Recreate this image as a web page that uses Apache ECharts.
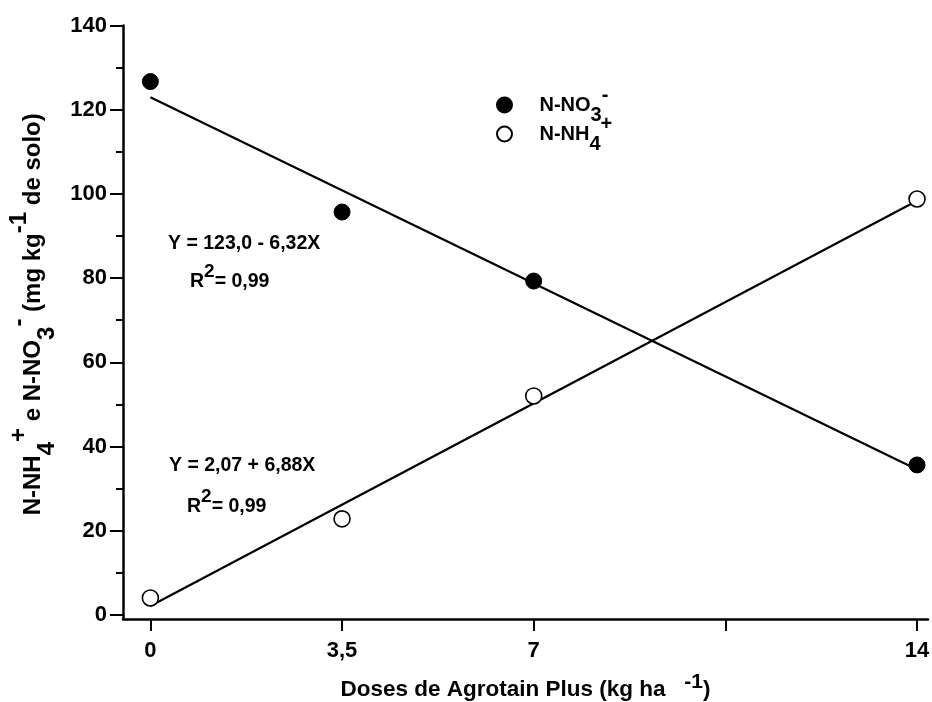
<!DOCTYPE html>
<html>
<head>
<meta charset="utf-8">
<script src="https://cdn.jsdelivr.net/npm/echarts@6/dist/echarts.min.js"></script>
<style>html,body{margin:0;padding:0;background:#fff}#c{width:932px;height:702px}</style>
</head>
<body>
<div id="c"></div>
<script>
// ---- data ----
const doses = [0, 3.5, 7, 14];
const no3Values = [126.7, 95.7, 79.3, 35.6];
const nh4Values = [4.0, 22.8, 52.0, 98.8];
const fitX = [0, 14];
const no3Fit = [123.0, 34.5];
const nh4Fit = [2.07, 98.4];
const xTickValues = [0, 3.5, 7, 10.5, 14];
const xLabelValues = [0, 3.5, 7, 14];
const yLabelValues = [0, 20, 40, 60, 80, 100, 120, 140];
const yMinorTicks = [10, 30, 50, 70, 90, 110, 130];

const FONT = '"Liberation Sans", Arial, sans-serif';
const pts = (xs, ys) => xs.map((x, i) => [x, ys[i]]);

const chart = echarts.init(document.getElementById('c'), null, {renderer: 'canvas'});
const axisLine = {show: true, onZero: false, lineStyle: {color: '#000', width: 2.5}};
const bold = (size, extra) => Object.assign({fontSize: size, fontWeight: 'bold', fontFamily: FONT, color: '#000'}, extra || {});

const option = {
  backgroundColor: '#fff',
  animation: false,
  grid: {left: 123, right: 4, top: 25.6, bottom: 83, containLabel: false, outerBoundsMode: 'none'},
  legend: {
    orient: 'vertical', left: 491, top: 80, itemWidth: 60, itemHeight: 15, itemGap: -11,
    icon: 'circle', selectedMode: false,
    data: ['N-NO3-', 'N-NH4+'],
    formatter: n => n === 'N-NO3-' ? '{m|N-NO}{sb|3}{sp|-}' : '{m|N-NH}{sb|4}{sp|+}',
    textStyle: Object.assign(bold(20), {
      rich: {
        m: bold(20, {lineHeight: 40}),
        sb: bold(20, {lineHeight: 17, verticalAlign: 'bottom'}),
        sp: bold(20, {lineHeight: 17, verticalAlign: 'top'})
      }
    })
  },
  xAxis: {
    type: 'value', min: -0.5, max: 14.2,
    splitLine: {show: false},
    axisLine: axisLine,
    axisTick: {show: true, customValues: xTickValues, length: 12, lineStyle: {color: '#000', width: 2}},
    axisLabel: Object.assign(bold(22), {customValues: xLabelValues, margin: 21,
      formatter: v => String(v).replace('.', ',')}),
    name: 'Doses de Agrotain Plus (kg ha   {sp|-1}{m|)}',
    nameLocation: 'middle', nameGap: 53,
    nameTextStyle: Object.assign(bold(22.5, {lineHeight: 36}), {
      rich: {
        sp: bold(21, {lineHeight: 18, verticalAlign: 'top'}),
        m: bold(22.5, {lineHeight: 36})
      }
    })
  },
  yAxis: [{
    type: 'value', min: -1, max: 140,
    splitLine: {show: false},
    axisLine: axisLine,
    axisTick: {show: true, customValues: yLabelValues, length: 13, lineStyle: {color: '#000', width: 2}},
    axisLabel: Object.assign(bold(22), {customValues: yLabelValues, margin: 16}),
    name: '{m|N-NH}{sb|4}{sp|+}{m| e N-NO}{sb|3}{sp|-}{m| (mg kg}{sp|-1}{m| de solo)}',
    nameLocation: 'middle', nameRotate: 90, nameGap: 58,
    nameTextStyle: Object.assign(bold(24), {
      padding: [0, 0, 0, 16],
      rich: {
        m: bold(24, {lineHeight: 52}),
        sb: bold(24, {lineHeight: 20, verticalAlign: 'bottom'}),
        sp: bold(24, {lineHeight: 20, verticalAlign: 'top'})
      }
    })
  }, {
    type: 'value', min: -1, max: 140, position: 'left',
    splitLine: {show: false},
    axisLine: {show: false, onZero: false},
    axisTick: {show: true, customValues: yMinorTicks, length: 7, lineStyle: {color: '#000', width: 2}},
    axisLabel: {show: false}
  }],
  graphic: [
    {type: 'text', x: 168, y: 244, style: {text: 'Y = 123,0 - 6,32X', fill: '#000', fontFamily: FONT, fontWeight: 'bold', fontSize: 19.5, textVerticalAlign: 'middle'}},
    {type: 'text', x: 190, y: 282, style: {text: '{m|R}{s|2}{m|= 0,99}', fill: '#000', textVerticalAlign: 'middle',
      rich: {m: bold(19.5, {lineHeight: 40}), s: bold(19, {lineHeight: 20, verticalAlign: 'top'})}}},
    {type: 'text', x: 169, y: 466, style: {text: 'Y = 2,07 + 6,88X', fill: '#000', fontFamily: FONT, fontWeight: 'bold', fontSize: 19.5, textVerticalAlign: 'middle'}},
    {type: 'text', x: 187, y: 507, style: {text: '{m|R}{s|2}{m|= 0,99}', fill: '#000', textVerticalAlign: 'middle',
      rich: {m: bold(19.5, {lineHeight: 40}), s: bold(19, {lineHeight: 20, verticalAlign: 'top'})}}}
  ],
  series: [
    {type: 'line', name: 'fitNO3', data: pts(fitX, no3Fit), symbol: 'none', silent: true, z: 2,
      lineStyle: {color: '#000', width: 2.2}},
    {type: 'line', name: 'fitNH4', data: pts(fitX, nh4Fit), symbol: 'none', silent: true, z: 2,
      lineStyle: {color: '#000', width: 2.2}},
    {type: 'scatter', name: 'N-NO3-', data: pts(doses, no3Values), symbol: 'circle', symbolSize: 16, z: 5,
      itemStyle: {color: '#000', borderColor: '#000', borderWidth: 1, opacity: 1}},
    {type: 'scatter', name: 'N-NH4+', data: pts(doses, nh4Values), symbol: 'circle', symbolSize: 16, z: 5,
      itemStyle: {color: '#fff', borderColor: '#000', borderWidth: 1.6, opacity: 1}}
  ]
};
chart.setOption(option);
</script>
</body>
</html>
